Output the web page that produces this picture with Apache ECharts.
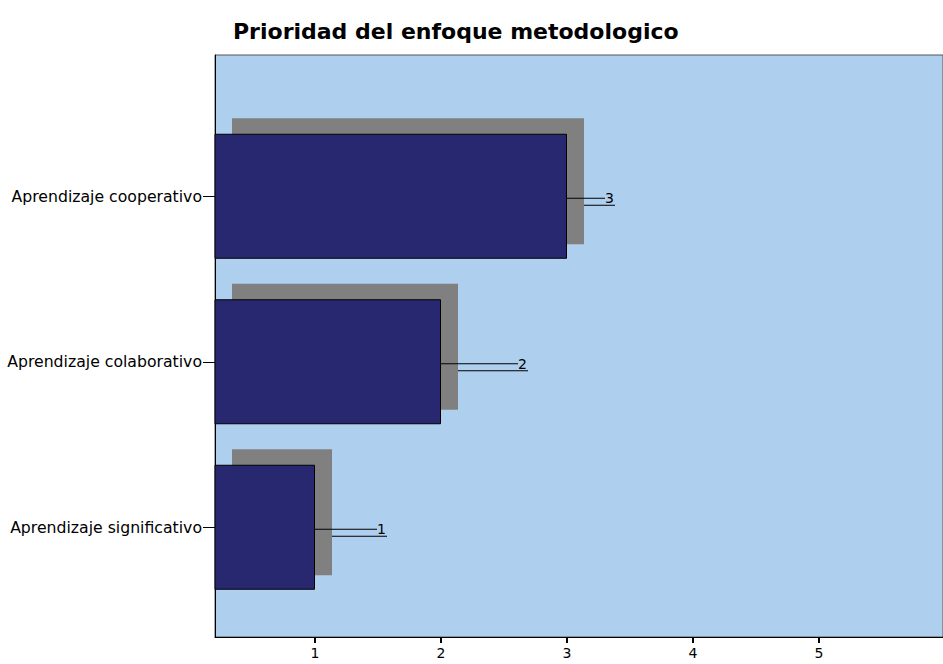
<!DOCTYPE html>
<html>
<head>
<meta charset="utf-8">
<script src="https://cdn.jsdelivr.net/npm/echarts@6/dist/echarts.min.js"></script>
<style>
html,body{margin:0;padding:0;background:#fff;}
#chart{width:943px;height:664px;}
</style>
</head>
<body>
<div id="chart"></div>
<script>
// Data (bottom-to-top order for the category axis)
const categories = ['Aprendizaje significativo', 'Aprendizaje colaborativo', 'Aprendizaje cooperativo'];
const values = [1, 2, 3];
const tickValues = [1, 2, 3, 4, 5];
const titleText = 'Prioridad del enfoque metodologico';

const X_MIN = 0.2063;
const PX_PER_UNIT = 126;
const PLOT_W = 728;
const X_MAX = X_MIN + PLOT_W / PX_PER_UNIT;

const chart = echarts.init(document.getElementById('chart'), null, {renderer: 'svg'});

const labelShift = {1: 57, 2: 72, 3: 33};

chart.setOption({
  animation: false,
  backgroundColor: '#ffffff',
  title: {
    text: titleText,
    left: 228,
    top: 15,
    textStyle: {fontFamily: 'DejaVu Sans', fontWeight: 'bold', fontSize: 22, color: '#000'}
  },
  grid: [
    {left: 215, top: 55, width: PLOT_W, height: 582, show: true, backgroundColor: '#aecfee', borderColor: '#555', borderWidth: 1, z: 0, outerBoundsMode: 'none'},
    {left: 215, top: 113.5, width: PLOT_W, height: 496.5, z: 3, outerBoundsMode: 'none'},
    {left: 232, top: 98.5, width: PLOT_W, height: 496.5, z: 2, outerBoundsMode: 'none'}
  ],
  xAxis: [
    {
      type: 'value', gridIndex: 0, min: X_MIN, max: X_MAX,
      axisLine: {show: true, lineStyle: {color: '#000', width: 1}},
      axisTick: {show: true, customValues: tickValues, length: 6, lineStyle: {color: '#000', width: 2}},
      axisLabel: {show: true, customValues: tickValues, margin: 9, color: '#000', fontSize: 14, fontFamily: 'DejaVu Sans'},
      splitLine: {show: false}
    },
    {type: 'value', gridIndex: 1, min: X_MIN, max: X_MAX, show: false},
    {type: 'value', gridIndex: 2, min: X_MIN, max: X_MAX, show: false}
  ],
  yAxis: [
    {
      type: 'value', gridIndex: 0, min: 0, max: 1,
      axisLine: {show: true, lineStyle: {color: '#000', width: 1}},
      axisTick: {show: false}, axisLabel: {show: false}, splitLine: {show: false}
    },
    {
      type: 'category', gridIndex: 1, data: categories,
      axisLine: {show: false},
      axisTick: {show: true, alignWithLabel: true, length: 12, lineStyle: {color: '#000'}},
      axisLabel: {margin: 13, color: '#000', fontSize: 15.7, fontFamily: 'DejaVu Sans'}
    },
    {type: 'category', gridIndex: 2, data: categories, show: false}
  ],
  series: [
    {
      type: 'bar', xAxisIndex: 2, yAxisIndex: 2, data: values,
      barWidth: 126, z: 2, silent: true,
      itemStyle: {color: '#808080'},
      label: {show: true, position: 'right', distance: 0, formatter: '{c}', color: 'rgba(0,0,0,0)', fontSize: 13, fontFamily: 'DejaVu Sans'},
      labelLayout: function (p) {
        return {dx: labelShift[values[p.dataIndex]] - 2, dy: 24};
      },
      labelLine: {show: true, lineStyle: {color: '#000', width: 1}}
    },
    {
      type: 'bar', xAxisIndex: 1, yAxisIndex: 1, data: values,
      barWidth: 125, z: 3,
      itemStyle: {color: '#282870', borderColor: '#000', borderWidth: 1},
      label: {show: true, position: 'right', distance: 5, formatter: '{c}', color: '#000', fontSize: 14, fontFamily: 'DejaVu Sans'},
      labelLayout: function (p) {
        return {dx: labelShift[values[p.dataIndex]], dy: 2};
      },
      labelLine: {show: true, lineStyle: {color: '#000', width: 1}}
    }
  ]
});
</script>
</body>
</html>
